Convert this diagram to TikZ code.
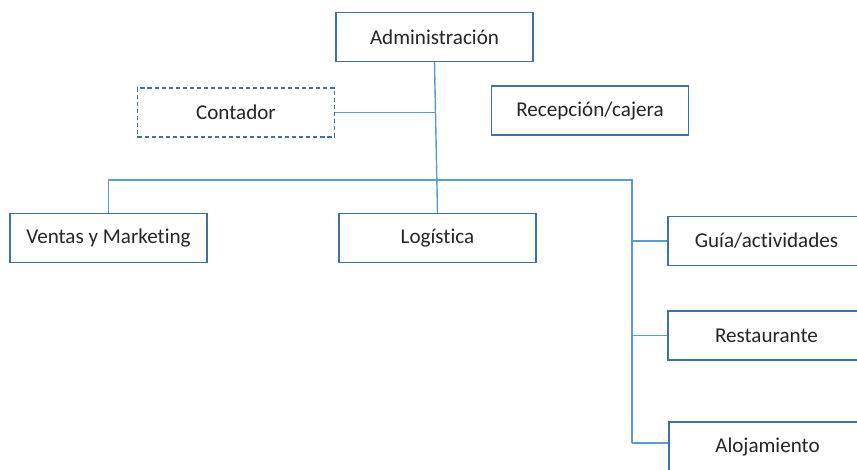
\documentclass[tikz,border=0pt]{standalone}
\usepackage{fontspec}
\setmainfont{Carlito}[Ligatures=NoCommon]
\usepackage{tikz}
\usetikzlibrary{positioning,calc}
\definecolor{linkblue}{RGB}{91,155,213}
\definecolor{boxblue}{RGB}{65,113,156}
\tikzset{
  unit/.style={draw=boxblue,line width=0.9pt,fill=white,inner sep=0pt,
    minimum width=4.925cm,minimum height=1.225cm,
    font=\fontsize{15}{18}\selectfont,text=black!85},
  ghost/.style={unit,dashed,dash pattern=on 3pt off 2pt},
  link/.style={draw=linkblue,line width=1pt}
}
\begin{document}
\begin{tikzpicture}[x=0.025cm,y=-0.025cm]
  \useasboundingbox (0,0) rectangle (857,469);
  \clip (0,0) rectangle (857,469);
  % top level and staff
  \node[unit] (admin) at (434.5,37) {Administración};
  \node[ghost] (conta) at (236,112.5) {Contador};
  \node[unit] (recep) at (590,110.5) {Recepción/cajera};
  % departments
  \node[unit] (ventas) at (108.5,238) {Ventas y Marketing};
  \node[unit] (logis) at (437.5,238) {Logística};
  \node[unit] (guia) at (766.5,241) {Guía/actividades};
  \node[unit] (resta) at (766.5,335.5) {Restaurante};
  \node[unit] (aloja) at (767.5,446.5) {Alojamiento};
  \coordinate (busR) at (632,180);
  \coordinate (busB) at (632,443);
  % connectors
  \draw[link] (admin.south) -- (logis.north);
  \draw[link] (conta.east) -- (conta.east -| admin.south);
  \draw[link] (ventas.north) |- (busR) -- (busB);
  \draw[link] (guia.west) -- (guia.west -| busR);
  \draw[link] (resta.west) -- (resta.west -| busR);
  \draw[link] (busB) -- (busB -| aloja.west);
\end{tikzpicture}
\end{document}
